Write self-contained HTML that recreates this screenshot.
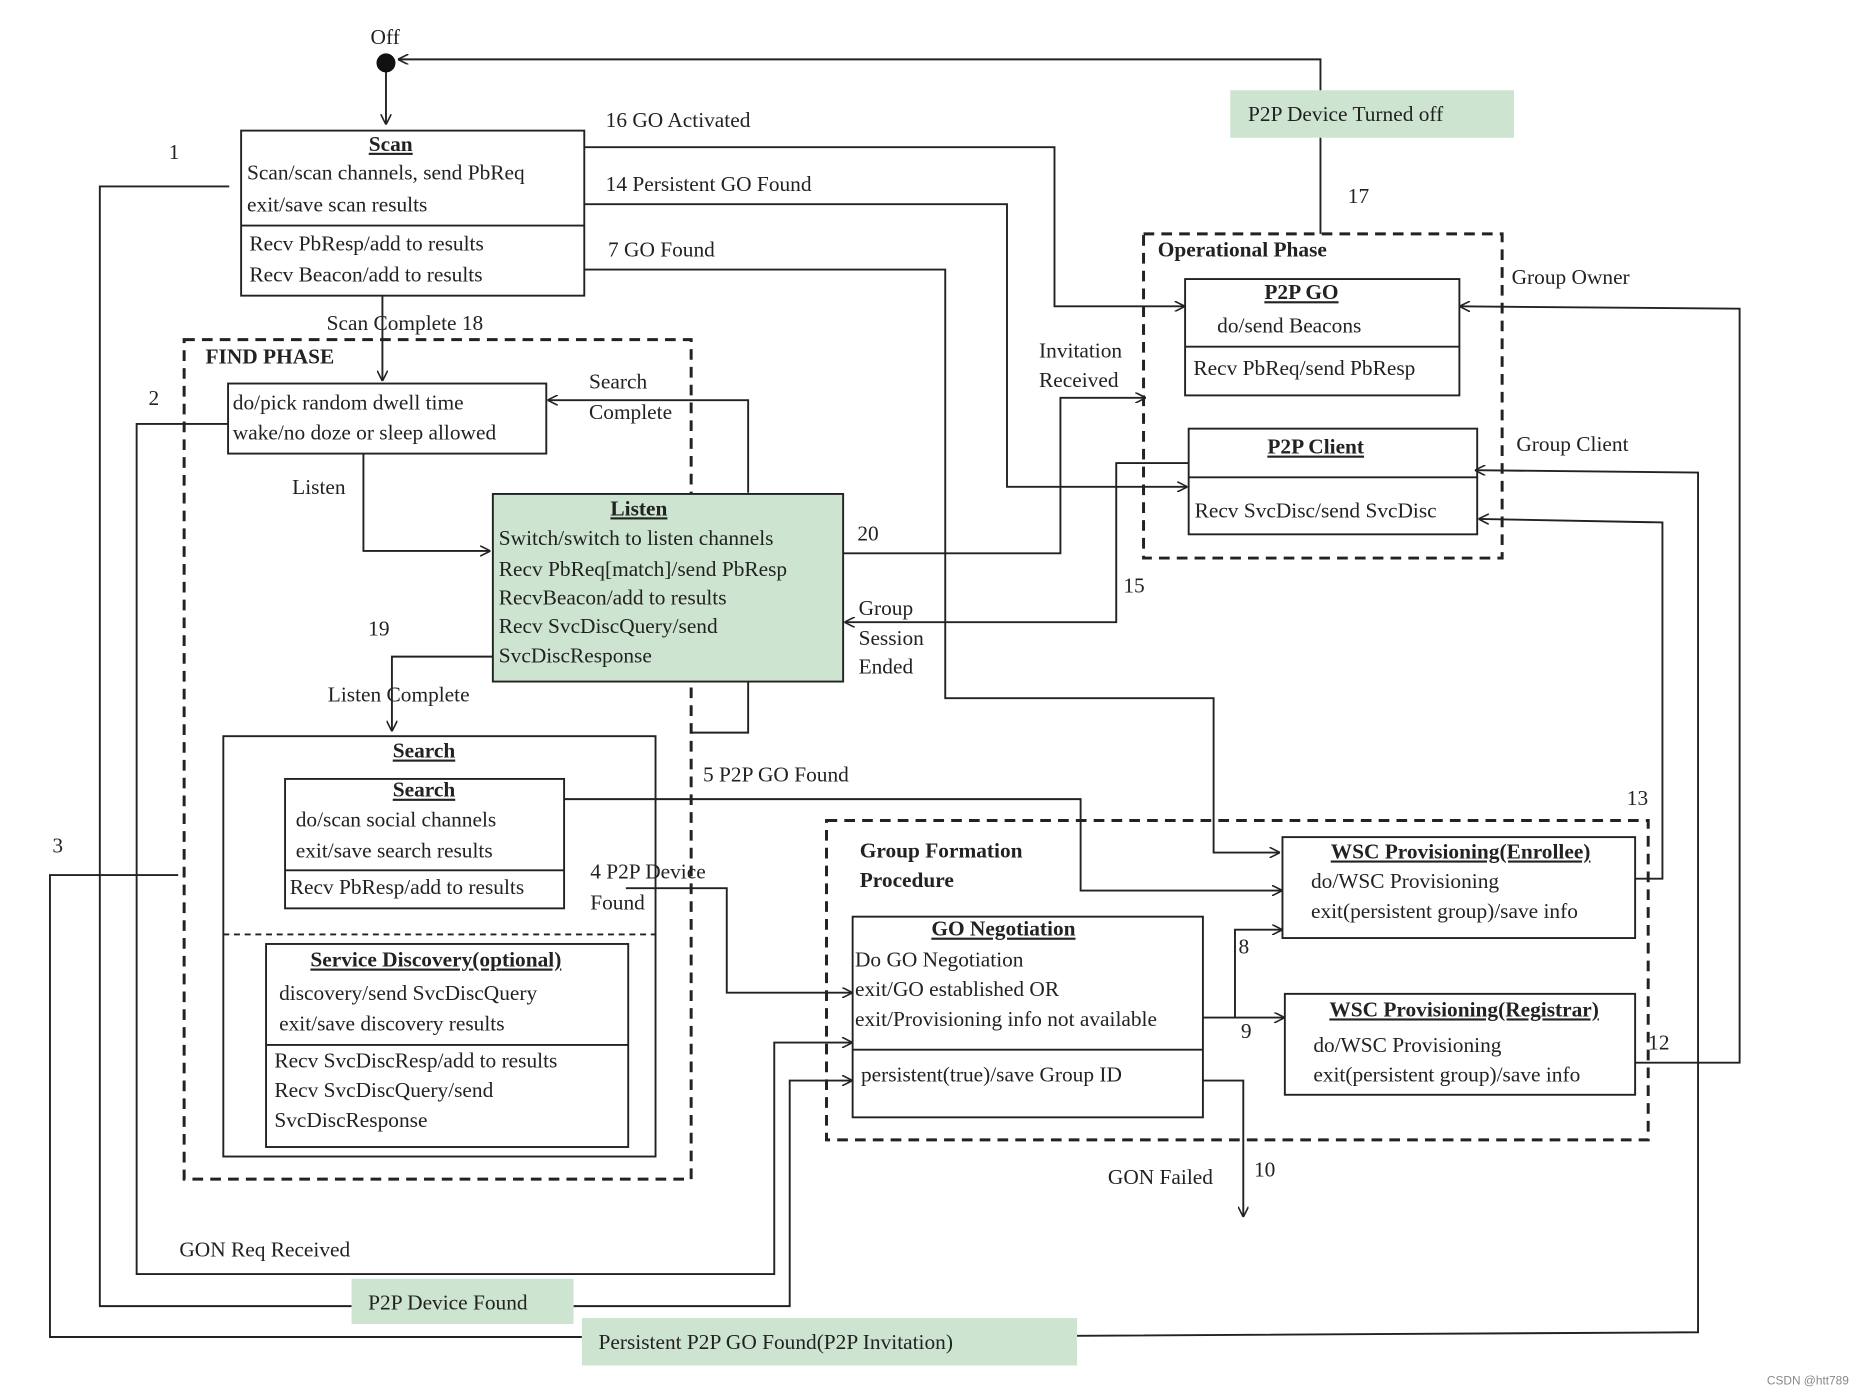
<!DOCTYPE html>
<html><head><meta charset="utf-8"><style>
html,body{margin:0;padding:0;background:#fff}
svg{display:block}
text{font-family:"Liberation Serif",serif;font-size:18px;fill:#222}
.b{font-weight:bold}
.u{text-decoration:underline;font-weight:bold}
</style></head><body>
<svg width="1862" height="1394" viewBox="0 0 1568 1174" xmlns="http://www.w3.org/2000/svg">
<defs><marker id="a" viewBox="0 0 10 10" refX="10" refY="5" markerWidth="9" markerHeight="9" orient="auto" markerUnits="userSpaceOnUse"><path d="M0,0L10,5L0,10" fill="none" stroke="#222" stroke-width="1.5"/></marker></defs>
<g fill="none" stroke="#222" stroke-width="1.6">
<!-- dashed groups -->
<rect x="155" y="286" width="427" height="707" stroke-dasharray="9,6" stroke-width="2.5"/>
<rect x="963" y="197" width="302" height="273" stroke-dasharray="9,6" stroke-width="2.5"/>
<rect x="696" y="691" width="692" height="269" stroke-dasharray="9,6" stroke-width="2.5"/>
<!-- boxes -->
<rect x="203" y="110" width="289" height="139"/><line x1="203" y1="190" x2="492" y2="190"/>
<rect x="998" y="235" width="231" height="98"/><line x1="998" y1="292" x2="1229" y2="292"/>
<rect x="1001" y="361" width="243" height="89"/><line x1="1001" y1="402" x2="1244" y2="402"/>
<rect x="192" y="323" width="268" height="59"/>
<rect x="415" y="416" width="295" height="158" fill="#cde5d0"/>
<rect x="188" y="620" width="364" height="354"/>
<line x1="188" y1="787" x2="552" y2="787" stroke-dasharray="5,4"/>
<rect x="240" y="656" width="235" height="109"/><line x1="240" y1="733" x2="475" y2="733"/>
<rect x="224" y="795" width="305" height="171"/><line x1="224" y1="880" x2="529" y2="880"/>
<rect x="718" y="772" width="295" height="169"/><line x1="718" y1="884" x2="1013" y2="884"/>
<rect x="1080" y="705" width="297" height="85"/>
<rect x="1082" y="837" width="295" height="85"/>
<!-- connectors -->
<line x1="325" y1="53" x2="325" y2="105" marker-end="url(#a)"/>
<polyline points="1112,197 1112,50 335,50" marker-end="url(#a)"/>
<polyline points="492,124 888,124 888,258 998,258" marker-end="url(#a)"/>
<polyline points="492,172 848,172 848,410 1000,410" marker-end="url(#a)"/>
<polyline points="492,227 796,227 796,588 1022,588 1022,718 1078,718" marker-end="url(#a)"/>
<polyline points="193,157 84,157 84,1100 296,1100"/>
<polyline points="1377,895 1465,895 1465,260 1229,258" marker-end="url(#a)"/>
<polyline points="907,1125 1430,1122 1430,398 1242,396" marker-end="url(#a)"/>
<polyline points="1377,740 1400,740 1400,440 1245,437" marker-end="url(#a)"/>
<polyline points="710,466 893,466 893,335 965,335" marker-end="url(#a)"/>
<polyline points="1001,390 940,390 940,524 711,524" marker-end="url(#a)"/>
<line x1="322" y1="249" x2="322" y2="321" marker-end="url(#a)"/>
<polyline points="192,357 115,357 115,1073 652,1073 652,878 718,878" marker-end="url(#a)"/>
<polyline points="306,382 306,464 413,464" marker-end="url(#a)"/>
<polyline points="630,415 630,337 461,337" marker-end="url(#a)"/>
<polyline points="415,553 330,553 330,616" marker-end="url(#a)"/>
<polyline points="630,574 630,617 582,617"/>
<polyline points="150,737 42,737 42,1126 490,1126"/>
<polyline points="483,1100 665,1100 665,910 718,910" marker-end="url(#a)"/>
<polyline points="475,673 910,673 910,750 1080,750" marker-end="url(#a)"/>
<polyline points="527,748 612,748 612,836 718,836" marker-end="url(#a)"/>
<polyline points="1040,857 1040,783 1080,783" marker-end="url(#a)"/>
<line x1="1013" y1="857" x2="1082" y2="857" marker-end="url(#a)"/>
<polyline points="1013,910 1047,910 1047,1025" marker-end="url(#a)"/>
</g>
<circle cx="325" cy="53" r="8" fill="#111"/>
<rect x="1036" y="76" width="239" height="40" fill="#cde5d0"/>
<rect x="296" y="1077" width="187" height="38" fill="#cde5d0"/>
<rect x="490" y="1110" width="417" height="40" fill="#cde5d0"/>
<text x="312" y="37">Off</text>
<text x="1051" y="102">P2P Device Turned off</text>
<text x="1135" y="171">17</text>
<text x="142" y="134">1</text>
<text x="510" y="107">16   GO Activated</text>
<text x="510" y="161">14   Persistent GO Found</text>
<text x="512" y="216">7   GO Found</text>
<text x="329" y="127" class="u" text-anchor="middle">Scan</text>
<text x="208" y="151">Scan/scan channels,  send PbReq</text>
<text x="208" y="178">exit/save scan results</text>
<text x="210" y="211">Recv PbResp/add to results</text>
<text x="210" y="237">Recv Beacon/add to results</text>
<text x="975" y="216" class="b">Operational Phase</text>
<text x="1096" y="252" class="u" text-anchor="middle">P2P GO</text>
<text x="1025" y="280">do/send Beacons</text>
<text x="1005" y="316">Recv PbReq/send PbResp</text>
<text x="1108" y="382" class="u" text-anchor="middle">P2P Client</text>
<text x="1006" y="436">Recv SvcDisc/send SvcDisc</text>
<text x="1273" y="239">Group Owner</text>
<text x="1277" y="380">Group Client</text>
<text x="875" y="301">Invitation</text>
<text x="875" y="326">Received</text>
<text x="722" y="455">20</text>
<text x="946" y="499">15</text>
<text x="723" y="518">Group</text>
<text x="723" y="543">Session</text>
<text x="723" y="567">Ended</text>
<text x="275" y="278">Scan  Complete 18</text>
<text x="173" y="306" class="b">FIND PHASE</text>
<text x="125" y="341">2</text>
<text x="196" y="345">do/pick random dwell time</text>
<text x="196" y="370">wake/no doze or sleep allowed</text>
<text x="496" y="327">Search</text>
<text x="496" y="353">Complete</text>
<text x="246" y="416">Listen</text>
<text x="538" y="434" class="u" text-anchor="middle">Listen</text>
<text x="420" y="459">Switch/switch to listen channels</text>
<text x="420" y="485">Recv PbReq[match]/send PbResp</text>
<text x="420" y="509">RecvBeacon/add to results</text>
<text x="420" y="533">Recv SvcDiscQuery/send</text>
<text x="420" y="558">SvcDiscResponse</text>
<text x="310" y="535">19</text>
<text x="276" y="591">Listen  Complete</text>
<text x="357" y="638" class="u" text-anchor="middle">Search</text>
<text x="357" y="671" class="u" text-anchor="middle">Search</text>
<text x="249" y="696">do/scan social channels</text>
<text x="249" y="722">exit/save search results</text>
<text x="244" y="753">Recv PbResp/add to results</text>
<text x="367" y="814" class="u" text-anchor="middle">Service Discovery(optional)</text>
<text x="235" y="842">discovery/send SvcDiscQuery</text>
<text x="235" y="868">exit/save discovery results</text>
<text x="231" y="899">Recv SvcDiscResp/add to results</text>
<text x="231" y="924">Recv SvcDiscQuery/send</text>
<text x="231" y="949">SvcDiscResponse</text>
<text x="44" y="718">3</text>
<text x="592" y="658">5  P2P GO Found</text>
<text x="497" y="740">4 P2P Device</text>
<text x="497" y="766">Found</text>
<text x="1370" y="678">13</text>
<text x="724" y="722" class="b">Group Formation</text>
<text x="724" y="747" class="b">Procedure</text>
<text x="845" y="788" class="u" text-anchor="middle">GO Negotiation</text>
<text x="720" y="814">Do GO Negotiation</text>
<text x="720" y="839">exit/GO established OR</text>
<text x="720" y="864">exit/Provisioning info not available</text>
<text x="725" y="911">persistent(true)/save Group ID</text>
<text x="1230" y="723" class="u" text-anchor="middle">WSC Provisioning(Enrollee)</text>
<text x="1104" y="748">do/WSC Provisioning</text>
<text x="1104" y="773">exit(persistent group)/save info</text>
<text x="1043" y="803">8</text>
<text x="1045" y="874">9</text>
<text x="1233" y="856" class="u" text-anchor="middle">WSC Provisioning(Registrar)</text>
<text x="1106" y="886">do/WSC Provisioning</text>
<text x="1106" y="911">exit(persistent group)/save info</text>
<text x="1388" y="884">12</text>
<text x="933" y="997">GON Failed</text>
<text x="1056" y="991">10</text>
<text x="151" y="1058">GON  Req Received</text>
<text x="310" y="1103">P2P Device Found</text>
<text x="504" y="1136">Persistent  P2P  GO Found(P2P Invitation)</text>
<text x="1488" y="1166" style="font-family:'Liberation Sans',sans-serif;font-size:10px;fill:#888">CSDN @htt789</text>
</svg>
</body></html>
